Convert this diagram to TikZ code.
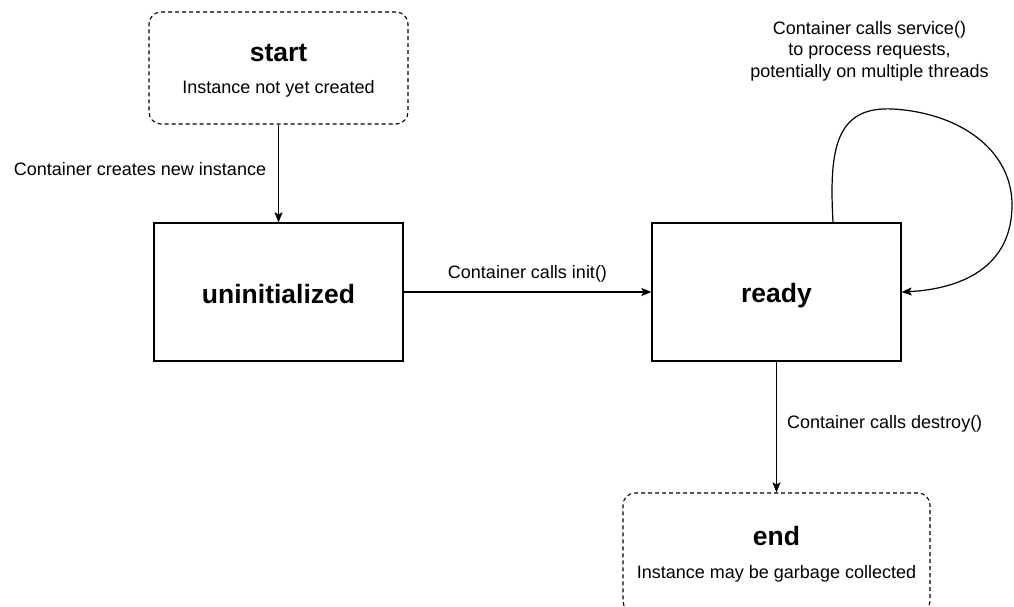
\documentclass[tikz,border=0pt]{standalone}
\usepackage{fontspec}
\setmainfont{Liberation Sans}
\usetikzlibrary{arrows.meta}
\tikzset{
  statebox/.style={draw, line width=1.2pt, minimum width=249pt, minimum height=138pt, inner sep=0pt},
  termbox/.style={draw, line width=1.1pt, dash pattern=on 4pt off 3pt, rounded corners=12pt, inner sep=0pt},
  title/.style={anchor=base, font=\fontsize{26.5}{30}\selectfont\bfseries, inner sep=0pt},
  lbl/.style={anchor=base, font=\fontsize{18}{21.5}\selectfont, inner sep=0pt},
  conn/.style={line width=1.2pt, -{Stealth[length=10pt, width=8pt, inset=2pt]}}
}
\begin{document}
\begin{tikzpicture}[x=1pt, y=-1pt]
\useasboundingbox (0,0) rectangle (1014,606);
% terminal boxes
\node[termbox, minimum width=259pt, minimum height=112pt] (start) at (278.5,68) {};
\node[termbox, minimum width=307pt, minimum height=120pt] (end) at (776.5,553) {};
% state boxes
\node[statebox] (uninit) at (278.5,292) {};
\node[statebox] (ready) at (776.5,292) {};
% texts
\node[title] (starttitle) at (278.5,61) {start};
\node[lbl] (startsub) at (278.5,93) {Instance not yet created};
\node[title] (uninittitle) at (278.5,303) {uninitialized};
\node[title] (readytitle) at (776.5,302) {ready};
\node[title] (endtitle) at (776.5,545) {end};
\node[lbl] (endsub) at (776.5,578) {Instance may be garbage collected};
\node[lbl] (lcreate) at (140,175) {Container creates new instance};
\node[lbl] (linit) at (527.5,278) {Container calls init()};
\node[lbl, anchor=base west] (ldestroy) at (787,428) {Container calls destroy()};
\node[lbl, align=center, anchor=north] (lservice) at (869.5,21) {Container calls service()\\to process requests,\\potentially on multiple threads};
% connectors
\draw[conn] (start.south) -- (uninit.north);
\draw[conn] (uninit.east) -- (ready.east -| ready.west);
\draw[conn] (ready.south) -- (end.north);
\draw[conn] ([xshift=56.5pt]ready.north) .. controls (829,150) and (835,106) .. (893,109)
  .. controls (960,113) and (1012,150) .. (1012,205)
  .. controls (1012,268) and (960,289) .. (ready.east);
\end{tikzpicture}
\end{document}
